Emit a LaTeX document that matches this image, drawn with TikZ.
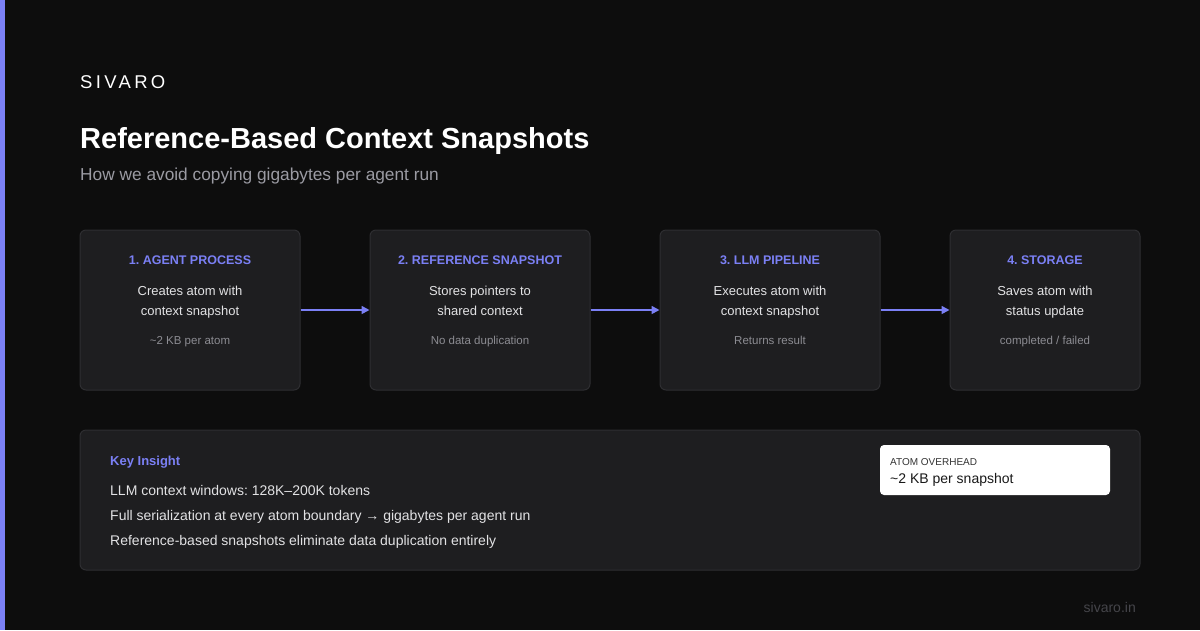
\documentclass[tikz,border=0pt]{standalone}
\usepackage{fontspec}
\setmainfont{Liberation Sans}
\newfontfamily\brandfont[LetterSpace=18]{Liberation Sans}
\usetikzlibrary{arrows.meta,positioning}
\frenchspacing

\definecolor{bgdark}{HTML}{0D0D0D}
\definecolor{accent}{HTML}{7B80F5}
\definecolor{cardfill}{HTML}{1E1E20}
\definecolor{cardline}{HTML}{2E2E31}
\definecolor{bodytext}{HTML}{E2E2E4}
\definecolor{subtext}{HTML}{8C8C92}
\definecolor{lead}{HTML}{9B9BA3}
\definecolor{faint}{HTML}{45454A}

\begin{document}
\begin{tikzpicture}
		[x=1pt,y=-1pt,
		card/.style={draw=cardline,line width=1pt,fill=cardfill,rounded corners=6pt,minimum height=160pt,inner sep=0pt},
		head/.style={anchor=base,inner sep=0pt,text=accent,font=\bfseries\fontsize{12.5}{15}\selectfont},
		body/.style={anchor=base,inner sep=0pt,text=bodytext,font=\fontsize{13}{16}\selectfont},
		note/.style={anchor=base,inner sep=0pt,text=subtext,font=\fontsize{11.5}{13}\selectfont},
		flow/.style={draw=accent,line width=1.6pt,-{Triangle[length=8pt,width=8pt]}},
		textline/.style={anchor=base west,inner sep=0pt,text=bodytext,font=\fontsize{14}{17}\selectfont}]
		
		% page and accent bar
		\fill[bgdark] (0,0) rectangle (1200,630);
		\useasboundingbox (0,0) rectangle (1200,630);
		\fill[accent] (0,0) rectangle (4.5,630);
		
		% header
		\node[anchor=base west,text=white,font=\brandfont\fontsize{18.5}{20}\selectfont,inner sep=0pt] (brand) at (80,88) {SIVARO};
		\node[anchor=base west,text=white,font=\bfseries\fontsize{29}{32}\selectfont,inner sep=0pt] (title) at (80,148) {Reference-Based Context Snapshots};
		\node[anchor=base west,text=lead,font=\fontsize{17.3}{20}\selectfont,inner sep=0pt] (sub) at (80,180) {How we avoid copying gigabytes per agent run};
		
		% the four stages
		\node[card,minimum width=220pt] (1) at (190,310) {};
		\node[card,minimum width=220pt] (2) at (480,310) {};
		\node[card,minimum width=220pt] (3) at (770,310) {};
		\node[card,minimum width=190pt] (4) at (1045,310) {};
		
		\node[head] (1h) at ([yshift=-34.5pt]1.north) {1. AGENT PROCESS};
		\node[body] (1b) at ([yshift=-65.5pt]1.north) {Creates atom with};
		\node[body] (1c) at ([yshift=-85.5pt]1.north) {context snapshot};
		\node[note] (1n) at ([yshift=-115pt]1.north) {\textasciitilde 2 KB per atom};
		
		\node[head] (2h) at ([yshift=-34.5pt]2.north) {2. REFERENCE SNAPSHOT};
		\node[body] (2b) at ([yshift=-65.5pt]2.north) {Stores pointers to};
		\node[body] (2c) at ([yshift=-85.5pt]2.north) {shared context};
		\node[note] (2n) at ([yshift=-115pt]2.north) {No data duplication};
		
		\node[head] (3h) at ([yshift=-34.5pt]3.north) {3. LLM PIPELINE};
		\node[body] (3b) at ([yshift=-65.5pt]3.north) {Executes atom with};
		\node[body] (3c) at ([yshift=-85.5pt]3.north) {context snapshot};
		\node[note] (3n) at ([yshift=-115pt]3.north) {Returns result};
		
		\node[head] (4h) at ([yshift=-34.5pt]4.north) {4. STORAGE};
		\node[body] (4b) at ([yshift=-65.5pt]4.north) {Saves atom with};
		\node[body] (4c) at ([yshift=-85.5pt]4.north) {status update};
		\node[note] (4n) at ([yshift=-115pt]4.north) {completed / failed};
		
		\draw[flow] (1) -- (2);
		\draw[flow] (2) -- (3);
		\draw[flow] (3) -- (4);
		
		% insight panel
		\node[card,minimum width=1060pt,minimum height=140pt] (key) at (610,500) {};
		\node[anchor=base west,text=accent,font=\bfseries\fontsize{13}{16}\selectfont,inner sep=0pt] (keyh) at (110,465) {Key Insight};
		\node[textline] (k1) at (110,495) {LLM context windows: 128K--200K tokens};
		\node[textline] (k2) at (110,520) {Full serialization at every atom boundary → gigabytes per agent run};
		\node[textline] (k3) at (110,545) {Reference-based snapshots eliminate data duplication entirely};
		
		\node[fill=white,rounded corners=4pt,minimum width=230pt,minimum height=50pt,inner sep=0pt] (cost) at (995,470) {};
		\node[anchor=base west,text=black!80,font=\fontsize{10}{12}\selectfont,inner sep=0pt] (costh) at (890,465) {ATOM OVERHEAD};
		\node[anchor=base west,text=black!90,font=\fontsize{14}{16}\selectfont,inner sep=0pt] (costv) at (890,483) {\textasciitilde 2 KB per snapshot};
		
		% footer
		\node[anchor=base east,text=faint,font=\fontsize{14}{15}\selectfont,inner sep=0pt] (site) at (1136,612) {sivaro.in};
		\end{tikzpicture}
\end{document}
